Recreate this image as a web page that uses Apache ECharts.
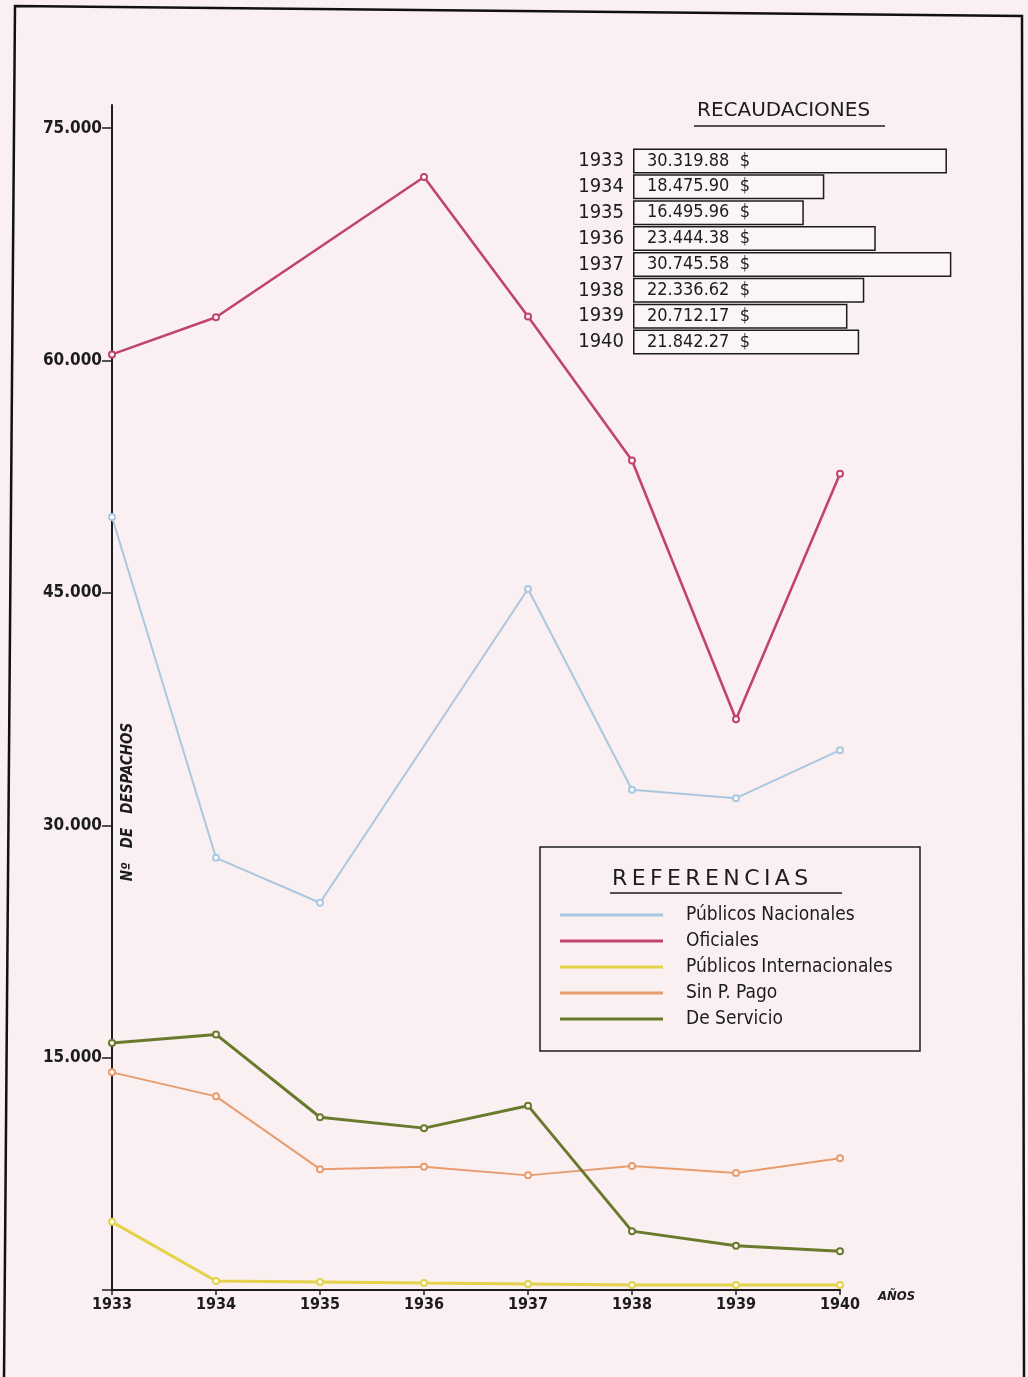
<!DOCTYPE html>
<html>
<head>
<meta charset="utf-8">
<script src="https://cdn.jsdelivr.net/npm/echarts@6/dist/echarts.min.js"></script>
<style>
    html, body { margin: 0; padding: 0; background: #faf0f1; }
    #chart { width: 1028px; height: 1377px; }
</style>
</head>
<body>
<div id="chart"></div>
<script>
    // años
    var years = ['1933', '1934', '1935', '1936', '1937', '1938', '1939', '1940'];
    // Nº de despachos (null = sin punto marcado)
    var publicosNacionales = [49900, 27900, 25000, null, 45250, 32300, 31750, 34850];
    var oficiales = [60400, 62800, null, 71850, 62850, 53550, 36850, 52700];
    var publicosInternacionales = [4400, 580, 520, 450, 390, 320, 320, 320];
    var sinPago = [14050, 12500, 7800, 7950, 7400, 8000, 7550, 8500];
    var deServicio = [15950, 16500, 11150, 10450, 11900, 3800, 2850, 2500];
    // recaudaciones en $
    var recaudaciones = [30319.88, 18475.90, 16495.96, 23444.38, 30745.58, 22336.62, 20712.17, 21842.27];
    // marcas del eje Y
    var yTicks = [0, 15000, 30000, 45000, 60000, 75000];
    var yLabels = [15000, 30000, 45000, 60000, 75000];

    var FONT = '"DejaVu Sans Condensed", "Liberation Sans Narrow", sans-serif';
    var INK = '#1c1c1c';

    function miles(v) {
        var s = String(Math.floor(v));
        return s.replace(/\B(?=(\d{3})+(?!\d))/g, '.');
    }
    function pesos(v) {
        var ent = Math.floor(v);
        var dec = Math.round((v - ent) * 100);
        return miles(ent) + '.' + (dec < 10 ? '0' + dec : dec) + '  $';
    }

    var chart = echarts.init(document.getElementById('chart'));

    function linea(name, data, color, width) {
        return {
            name: name,
            type: 'line',
            xAxisIndex: 0,
            yAxisIndex: 0,
            data: data,
            connectNulls: true,
            symbol: 'emptyCircle',
            symbolSize: 6,
            color: color,
            lineStyle: { color: color, width: width },
            itemStyle: { color: color, borderWidth: 1.3 },
            z: 3
        };
    }

    chart.setOption({
        backgroundColor: '#faf0f1',
        animation: false,
        grid: [
            { left: 112, right: 188, top: 105, bottom: 87 },
            { left: 633, top: 148, width: 321, height: 207 }
        ],
        xAxis: [
            {
                type: 'category',
                gridIndex: 0,
                data: years,
                boundaryGap: false,
                axisLine: { lineStyle: { color: INK, width: 2 } },
                axisTick: { show: true, length: 5, lineStyle: { color: INK, width: 1.5 } },
                axisLabel: { color: INK, fontFamily: FONT, fontSize: 16, fontWeight: 'bold', margin: 7 },
                splitLine: { show: false },
                name: 'AÑOS',
                nameLocation: 'end',
                nameGap: 38,
                nameTextStyle: { color: INK, fontFamily: FONT, fontSize: 13, fontStyle: 'italic', fontWeight: 'bold', verticalAlign: 'top', padding: [0, 0, 0, 0] }
            },
            {
                type: 'value',
                gridIndex: 1,
                min: 0,
                max: 31000,
                show: false
            }
        ],
        yAxis: [
            {
                type: 'value',
                gridIndex: 0,
                min: 0,
                max: 76500,
                axisLine: { show: true, lineStyle: { color: INK, width: 2 } },
                axisTick: { show: true, length: 10, customValues: yTicks, lineStyle: { color: INK, width: 1.5 } },
                axisLabel: {
                    customValues: yLabels,
                    color: INK,
                    fontFamily: FONT,
                    fontSize: 17,
                    fontWeight: 'bold',
                    margin: 10,
                    padding: [0, 0, 12, 0],
                    formatter: function (v) { return miles(v); }
                },
                splitLine: { show: false }
            },
            {
                type: 'category',
                gridIndex: 1,
                data: years,
                inverse: true,
                axisLine: { show: false },
                axisTick: { show: false },
                axisLabel: { interval: 0, color: INK, fontFamily: FONT, fontSize: 20, margin: 9 }
            }
        ],
        legend: {
            orient: 'vertical',
            left: 560,
            top: 905,
            padding: 0,
            itemGap: 6,
            itemWidth: 103,
            itemHeight: 3,
            icon: 'rect',
            selectedMode: false,
            textStyle: { color: INK, fontFamily: FONT, fontSize: 19, lineHeight: 20, padding: [0, 0, 0, 18] },
            data: ['Públicos Nacionales', 'Oficiales', 'Públicos Internacionales', 'Sin P. Pago', 'De Servicio']
        },
        graphic: [
            // marco de la lámina
            {
                type: 'polyline',
                shape: { points: [[4, 1377], [15, 6], [1022, 16], [1024, 1377]] },
                style: { stroke: '#111', lineWidth: 2.5, fill: null },
                silent: true
            },
            {
                type: 'text',
                left: 697,
                top: 101,
                style: { text: 'RECAUDACIONES', fill: INK, font: '20px "DejaVu Sans", sans-serif' }
            },
            {
                type: 'line',
                shape: { x1: 694, y1: 126, x2: 885, y2: 126 },
                style: { stroke: INK, lineWidth: 1.5 }
            },
            {
                type: 'text',
                x: 128,
                y: 802,
                rotation: Math.PI / 2,
                style: {
                    text: 'Nº   DE   DESPACHOS',
                    fill: INK,
                    font: 'italic bold 15px ' + FONT,
                    textAlign: 'center',
                    textVerticalAlign: 'middle'
                }
            },
            // recuadro de referencias
            {
                type: 'rect',
                shape: { x: 540, y: 847, width: 380, height: 204 },
                style: { stroke: INK, lineWidth: 1.5, fill: null }
            },
            {
                type: 'text',
                left: 612,
                top: 868,
                style: { text: 'R\u2009E\u2009F\u2009E\u2009R\u2009E\u2009N\u2009C\u2009I\u2009A\u2009S', fill: INK, font: '22px "DejaVu Sans", sans-serif' }
            },
            {
                type: 'line',
                shape: { x1: 610, y1: 893, x2: 842, y2: 893 },
                style: { stroke: INK, lineWidth: 1.5 }
            }
        ],
        series: [
            linea('Públicos Nacionales', publicosNacionales, '#a9c8e0', 2),
            linea('Oficiales', oficiales, '#c0456d', 2.6),
            linea('Públicos Internacionales', publicosInternacionales, '#e4d24a', 3),
            linea('Sin P. Pago', sinPago, '#e89c6e', 2),
            linea('De Servicio', deServicio, '#6a7a2c', 3),
            {
                name: 'Recaudaciones',
                type: 'bar',
                xAxisIndex: 1,
                yAxisIndex: 1,
                data: recaudaciones,
                barCategoryGap: '3%',
                itemStyle: { color: 'rgba(255,255,255,0.35)', borderColor: INK, borderWidth: 1.5 },
                label: {
                    show: true,
                    position: 'insideLeft',
                    distance: 14,
                    color: INK,
                    fontFamily: FONT,
                    fontSize: 18,
                    formatter: function (p) { return pesos(p.value); }
                }
            }
        ]
    });
</script>
</body>
</html>
